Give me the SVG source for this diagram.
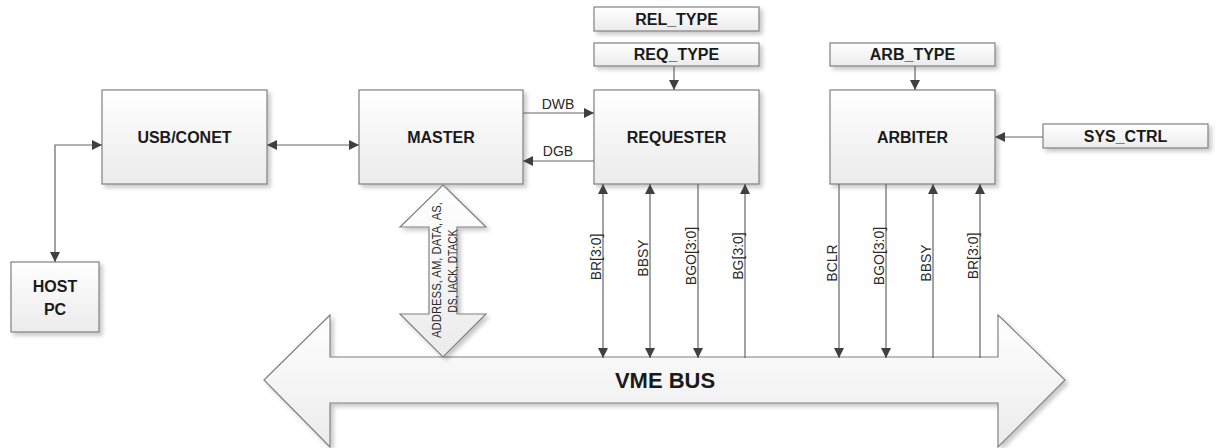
<svg xmlns="http://www.w3.org/2000/svg" width="1218" height="448" viewBox="0 0 1218 448">
<style>
.box{fill:url(#g);stroke:#808080;stroke-width:1.2;filter:url(#sh)}
.lbl{font-family:"Liberation Sans",Arial,sans-serif;font-weight:bold;font-size:16px;fill:#1a1a1a;text-anchor:middle}
.sm{font-family:"Liberation Sans",Arial,sans-serif;font-size:13px;fill:#2a2a2a;text-anchor:middle}
.vl{font-family:"Liberation Sans",Arial,sans-serif;font-size:14px;fill:#2a2a2a;text-anchor:middle}
.con{fill:none;stroke:#666;stroke-width:1.2}
</style>
<defs>
<linearGradient id="g" x1="0" y1="0" x2="0" y2="1">
<stop offset="0" stop-color="#ffffff"/>
<stop offset="1" stop-color="#ebebeb"/>
</linearGradient>
<filter id="sh" x="-10%" y="-10%" width="130%" height="140%">
<feDropShadow dx="3" dy="3" stdDeviation="2" flood-color="#000" flood-opacity="0.22"/>
</filter>
<marker id="ah" viewBox="0 0 10 10" refX="10" refY="5" markerWidth="10" markerHeight="15" markerUnits="userSpaceOnUse" orient="auto-start-reverse">
<path d="M0,0 L10,5 L0,10 z" fill="#404040"/>
</marker>
</defs>

<g id="bus">
<polygon class="box" points="264,380 330,315 330,357 998,357 998,315 1065,380 998,447 998,403 330,403 330,447"/>
<text x="665" y="388" class="lbl" style="font-size:22px">VME BUS</text>
</g>

<g id="usb"><rect class="box" x="102" y="90" width="165" height="94"/><text x="184.5" y="143" class="lbl">USB/CONET</text></g>
<g id="host"><rect class="box" x="11" y="262" width="88" height="70"/><text x="55" y="292" class="lbl">HOST</text><text x="55" y="315" class="lbl">PC</text></g>
<g id="master"><rect class="box" x="359" y="90" width="164" height="94"/><text x="441" y="143" class="lbl">MASTER</text></g>
<g id="requester"><rect class="box" x="594" y="90" width="165" height="94"/><text x="676.5" y="143" class="lbl">REQUESTER</text></g>
<g id="rel_type"><rect class="box" x="594" y="7" width="165" height="24"/><text x="676.5" y="25" class="lbl">REL_TYPE</text></g>
<g id="req_type"><rect class="box" x="594" y="43" width="165" height="23"/><text x="676.5" y="60" class="lbl">REQ_TYPE</text></g>
<g id="arbiter"><rect class="box" x="830" y="90" width="165" height="94"/><text x="912.5" y="143" class="lbl">ARBITER</text></g>
<g id="arb_type"><rect class="box" x="830" y="43" width="165" height="23"/><text x="912.5" y="60" class="lbl">ARB_TYPE</text></g>
<g id="sys_ctrl"><rect class="box" x="1043" y="124" width="165" height="24"/><text x="1125.5" y="142" class="lbl">SYS_CTRL</text></g>

<g id="address">
<polygon class="box" points="443,185 486,227 457,227 457,314 486,314 443,357 400,314 429,314 429,227 400,227"/>
<text transform="translate(441,270) rotate(-90)" class="sm" style="font-size:12.5px" textLength="136" lengthAdjust="spacingAndGlyphs">ADDRESS, AM, DATA, AS,</text>
<text transform="translate(457,271) rotate(-90)" class="sm" style="font-size:12.5px" textLength="83" lengthAdjust="spacingAndGlyphs">DS, IACK, DTACK</text>
</g>

<g id="connectors">
<path class="con" d="M55,262 V145 H102" marker-start="url(#ah)" marker-end="url(#ah)"/>
<path class="con" d="M267,145 H359" marker-start="url(#ah)" marker-end="url(#ah)"/>
<path class="con" d="M523,113 H594" marker-end="url(#ah)"/>
<text x="558" y="109" class="sm" style="font-size:14px">DWB</text>
<path class="con" d="M594,161 H523" marker-end="url(#ah)"/>
<text x="558" y="156" class="sm" style="font-size:14px">DGB</text>
<path class="con" d="M674,66 V90" marker-end="url(#ah)"/>
<path class="con" d="M915,66 V90" marker-end="url(#ah)"/>
<path class="con" d="M1043,137 H995" marker-end="url(#ah)"/>

<path class="con" d="M603,184 V358" marker-start="url(#ah)" marker-end="url(#ah)"/>
<text transform="translate(601,257) rotate(-90)" class="vl">BR[3:0]</text>
<path class="con" d="M650,184 V358" marker-start="url(#ah)" marker-end="url(#ah)"/>
<text transform="translate(648,258) rotate(-90)" class="vl">BBSY</text>
<path class="con" d="M698,184 V358" marker-end="url(#ah)"/>
<text transform="translate(696,256) rotate(-90)" class="vl">BGO[3:0]</text>
<path class="con" d="M745,358 V184" marker-end="url(#ah)"/>
<text transform="translate(743,256) rotate(-90)" class="vl">BG[3:0]</text>

<path class="con" d="M839,184 V358" marker-end="url(#ah)"/>
<text transform="translate(837,263) rotate(-90)" class="vl">BCLR</text>
<path class="con" d="M886,184 V358" marker-end="url(#ah)"/>
<text transform="translate(884,256) rotate(-90)" class="vl">BGO[3:0]</text>
<path class="con" d="M933,358 V184" marker-end="url(#ah)"/>
<text transform="translate(931,263) rotate(-90)" class="vl">BBSY</text>
<path class="con" d="M980,358 V184" marker-end="url(#ah)"/>
<text transform="translate(978,256) rotate(-90)" class="vl">BR[3:0]</text>
</g>
</svg>
